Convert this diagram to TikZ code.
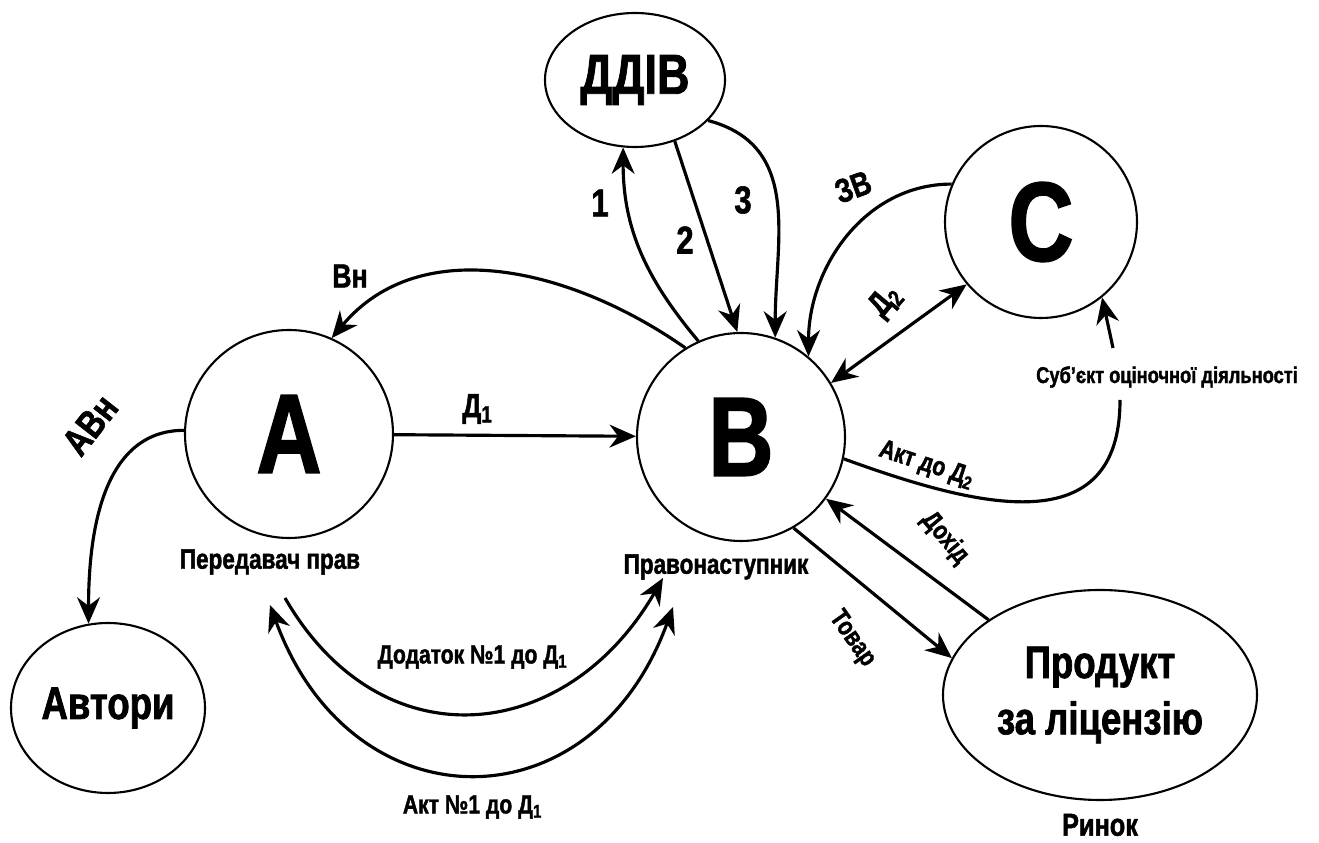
\documentclass[tikz,border=0pt]{standalone}
\usepackage{fontspec}
\setmainfont{Liberation Sans}[FakeStretch=0.8, BoldFeatures={FakeBold=1.5}]
\usetikzlibrary{arrows.meta, shapes.geometric, positioning}
\newcommand{\setfs}[1]{\fontsize{#1}{#1}\selectfont}

\begin{document}
\begin{tikzpicture}[>={Stealth[length=7.5pt, width=6.5pt]}, font=\bfseries]

\useasboundingbox (0,0) rectangle (13.19,8.43);

\tikzset{
    party/.style={
        draw, line width=0.6pt, circle, inner sep=0pt,
        font=\bfseries\setfs{32}
    },
    body/.style={
        draw, line width=0.6pt, ellipse, inner sep=0pt,
        align=center, font=\bfseries\setfs{13}
    },
    flow/.style={->, line width=0.9pt},
    plain flow/.style={line width=0.9pt},
    tag/.style={font=\bfseries\setfs{7.5}},
    mark label/.style={font=\bfseries\setfs{9.5}}
}

% Participants
\node[party, minimum size=2.08cm] (A) at (2.89, 4.09) {А};
\node[party, minimum size=2.08cm] (B) at (7.41, 4.06) {В};
\node[party, minimum size=1.92cm] (C) at (10.41, 6.21) {С};
\node[body, minimum width=1.80cm, minimum height=1.34cm, font=\bfseries\setfs{16}] (ddiv) at (6.35, 7.63) {ДДІВ};
\node[body, minimum width=1.94cm, minimum height=1.70cm] (avtory) at (1.08, 1.35) {Автори};
\node[body, minimum width=3.14cm, minimum height=2.10cm] (product) at (11.00, 1.48) {Продукт\\[3pt]за ліцензію};

% Captions
\node[tag, font=\bfseries\setfs{8}] (peredavach) at (2.70, 2.81) {Передавач прав};
\node[tag, font=\bfseries\setfs{8}] (pravonast) at (7.16, 2.76) {Правонаступник};
\node[tag, font=\bfseries\setfs{9}] (rynok) at (11.00, 0.18) {Ринок};
\node[tag, font=\bfseries\setfs{6.5}] (subj) at (11.67, 4.66) {Суб’єкт оціночної діяльності};

% Loose ends
\coordinate (subjbot) at (11.20, 4.43);
\coordinate (subjtop) at (11.13, 4.95);
\coordinate (dodstart) at (2.85, 2.45);
\coordinate (dodend) at (6.63, 2.65);
\coordinate (aktstart) at (2.70, 2.38);
\coordinate (aktend) at (6.73, 2.36);

% Contract between A and B
\draw[flow] (A) -- (B);
\node[mark label] at (4.78, 4.34) {Д\textsubscript{1}};

\draw[flow] (B.122) to[out=145, in=50] (A.66);
\node[mark label] at (3.50, 5.67) {Вн};

\draw[flow] (A.178) to[out=180, in=90] (avtory.103);
\node[mark label, font=\bfseries\setfs{11}, rotate=52] at (0.90, 4.18) {АВн};

% DDIV exchange
\draw[flow] (B.114) to[out=130, in=-90] (ddiv.260);
\draw[flow] (ddiv.-57) -- (B.92);
\draw[flow] (ddiv.-29) to[out=-15, in=90, looseness=1.1] (B.71);
\node[mark label, font=\bfseries\setfs{11}] at (6.00, 6.40) {1};
\node[mark label, font=\bfseries\setfs{11}] at (6.85, 6.03) {2};
\node[mark label, font=\bfseries\setfs{11}] at (7.43, 6.43) {3};

% Valuation
\draw[flow] (C.157) to[out=180, in=90] (B.50);
\node[mark label, rotate=20] at (8.53, 6.56) {ЗВ};

\draw[flow, <->] (B.31) -- (C.220);
\node[mark label, rotate=50] at (8.86, 5.42) {Д\textsubscript{2}};

\draw[plain flow] (B.-12) to[out=-20, in=-90, looseness=1.3] (subjbot);
\draw[flow] (subjtop) -- (C.-51);
\node[tag, rotate=-18] at (9.27, 3.78) {Акт до Д\textsubscript{2}};

% Market
\draw[flow] (product.146) -- (B.-36);
\node[tag, rotate=-50] at (9.45, 3.05) {Дохід};

\draw[flow] (B.-60) -- (product.166);
\node[tag, rotate=-55] at (8.52, 2.04) {Товар};

% Annexes to the contract
\draw[flow] (dodstart) to[out=-60, in=-120, looseness=1.3] (dodend);
\node[tag] at (4.73, 1.86) {Додаток №1 до Д\textsubscript{1}};

\draw[flow, <->] (aktstart) to[out=-70, in=-110, looseness=1.5] (aktend);
\node[tag] at (4.73, 0.36) {Акт №1 до Д\textsubscript{1}};

\end{tikzpicture}
\end{document}
